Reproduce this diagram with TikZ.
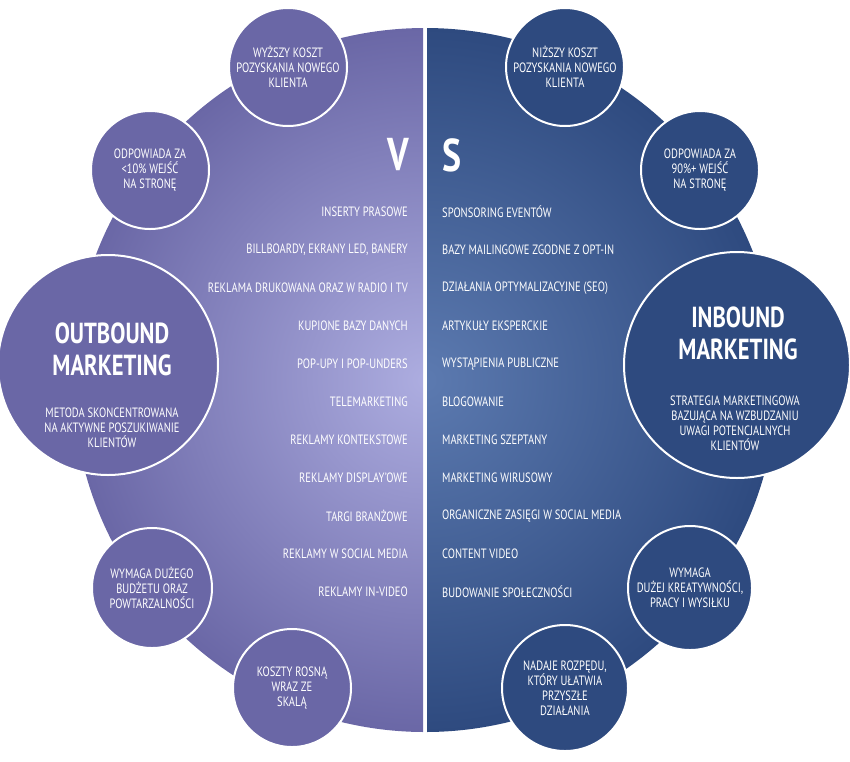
\documentclass[tikz,border=0pt]{standalone}
\usepackage{fontspec}
\setmainfont{PT Sans}[FakeStretch=0.78]
\begin{document}
\begin{tikzpicture}[x=1pt,y=-1pt,
  lc/.style={circle,draw=white,line width=2pt,fill=lcol,text=white,align=center,inner sep=0pt,font=\fontsize{13.5}{15}\selectfont},
  rc/.style={circle,draw=white,line width=2pt,fill=rcol,text=white,align=center,inner sep=0pt,font=\fontsize{13.5}{15}\selectfont},
  li/.style={anchor=east,text=white,font=\fontsize{13.5}{15}\selectfont,inner sep=0pt},
  ri/.style={anchor=west,text=white,font=\fontsize{13.5}{15}\selectfont,inner sep=0pt}]
\definecolor{lcol}{HTML}{6A67A6}
\definecolor{lcenter}{HTML}{ADADE0}
\definecolor{rcol}{HTML}{2E4A7F}
\definecolor{rcenter}{HTML}{5C7AB0}
\useasboundingbox (0,0) rectangle (850,761);
\begin{scope}
\clip (75,0) rectangle (423,761);
\shade[inner color=lcenter,outer color=lcol] (425,380) circle (352);
\end{scope}
\begin{scope}
\clip (427,0) rectangle (800,761);
\shade[inner color=rcenter,outer color=rcol] (425,380) circle (352);
\end{scope}
\node[lc,minimum size=118] (a1) at (288,67) {WYŻSZY KOSZT\\POZYSKANIA NOWEGO\\KLIENTA};
\node[rc,minimum size=118] (b1) at (565,67) {NIŻSZY KOSZT\\POZYSKANIA NOWEGO\\KLIENTA};
\node[lc,minimum size=118] (a2) at (150,170) {ODPOWIADA ZA\\<10\% WEJŚĆ\\NA STRONĘ};
\node[rc,minimum size=118] (b2) at (700,170) {ODPOWIADA ZA\\90\%+ WEJŚĆ\\NA STRONĘ};
\node[lc,minimum size=220] (a3) at (108,365) {};
\node[text=white,align=center,font=\bfseries\fontsize{29}{32}\selectfont] (a3t) at (112,349) {OUTBOUND\\MARKETING};
\node[text=white,align=center,font=\fontsize{13.5}{15}\selectfont] (a3d) at (112,428) {METODA SKONCENTROWANA\\NA AKTYWNE POSZUKIWANIE\\KLIENTÓW};
\node[rc,minimum size=226] (b3) at (737,365) {};
\node[text=white,align=center,font=\bfseries\fontsize{29}{32}\selectfont] (b3t) at (738,333) {INBOUND\\MARKETING};
\node[text=white,align=center,font=\fontsize{13.5}{15}\selectfont] (b3d) at (735,423) {STRATEGIA MARKETINGOWA\\BAZUJĄCA NA WZBUDZANIU\\UWAGI POTENCJALNYCH\\KLIENTÓW};
\node[lc,minimum size=120] (a4) at (152,588) {WYMAGA DUŻEGO\\BUDŻETU ORAZ\\POWTARZALNOŚCI};
\node[rc,minimum size=124] (b4) at (690,588) {WYMAGA\\DUŻEJ KREATYWNOŚCI,\\PRACY I WYSIŁKU};
\node[lc,minimum size=118] (a5) at (292,688) {KOSZTY ROSNĄ\\WRAZ ZE\\SKALĄ};
\node[rc,minimum size=126] (b5) at (565,688) {NADAJE ROZPĘDU,\\KTÓRY UŁATWIA\\PRZYSZŁE\\DZIAŁANIA};
\node[text=white,font=\bfseries\fontsize{46}{46}\selectfont] (v) at (398,155) {V};
\node[text=white,font=\bfseries\fontsize{46}{46}\selectfont] (s) at (452,155) {S};
\foreach \t [count=\i] in {INSERTY PRASOWE,{BILLBOARDY, EKRANY LED, BANERY},REKLAMA DRUKOWANA ORAZ W RADIO I TV,KUPIONE BAZY DANYCH,POP-UPY I POP-UNDERS,TELEMARKETING,REKLAMY KONTEKSTOWE,REKLAMY DISPLAY'OWE,TARGI BRANŻOWE,REKLAMY W SOCIAL MEDIA,REKLAMY IN-VIDEO}
  \node[li] (l\i) at (408,174+38*\i) {\t};
\foreach \t [count=\i] in {SPONSORING EVENTÓW,BAZY MAILINGOWE ZGODNE Z OPT-IN,DZIAŁANIA OPTYMALIZACYJNE (SEO),ARTYKUŁY EKSPERCKIE,WYSTĄPIENIA PUBLICZNE,BLOGOWANIE,MARKETING SZEPTANY,MARKETING WIRUSOWY,ORGANICZNE ZASIĘGI W SOCIAL MEDIA,CONTENT VIDEO,BUDOWANIE SPOŁECZNOŚCI}
  \node[ri] (r\i) at (442,174+38*\i) {\t};
\end{tikzpicture}
\end{document}
